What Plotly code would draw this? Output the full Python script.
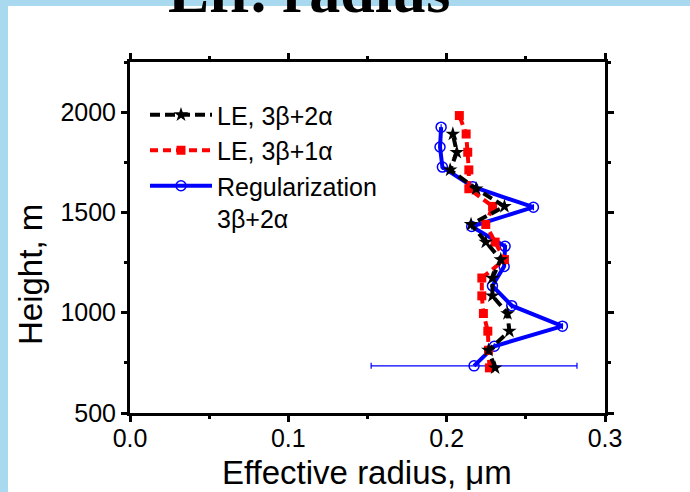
import plotly.graph_objects as go

# ---- data ----
# LE, 3β+2α  (black stars), bottom to top
black_h = [725, 813, 908, 996, 1084, 1173, 1265, 1352, 1440, 1530, 1618, 1712, 1800, 1891]
black_r = [0.2306, 0.2264, 0.2396, 0.2384, 0.2289, 0.2289, 0.2342, 0.2247, 0.2154, 0.2365,
           0.2186, 0.2022, 0.2064, 0.2039]

# LE, 3β+1α  (red squares)
red_h = [725, 813, 908, 996, 1084, 1173, 1265, 1352, 1440, 1530, 1618, 1712, 1800, 1891, 1983]
red_r = [0.2270, 0.2264, 0.2260, 0.2232, 0.2222, 0.2222, 0.2365, 0.2306, 0.2247, 0.2290,
         0.2140, 0.2140, 0.2133, 0.2123, 0.2080]

# Regularization 3β+2α (blue open circles)
blue_h = [735, 833, 933, 1035, 1134, 1231, 1331, 1430, 1526, 1628, 1726, 1826, 1925]
blue_r = [0.2173, 0.2301, 0.2731, 0.2411, 0.2289, 0.2363, 0.2369, 0.2158, 0.2548, 0.2165,
          0.1973, 0.1958, 0.1965]
blue_err = [0.065] + [None] * (len(blue_h) - 1)

x_ticks = [0.0, 0.1, 0.2, 0.3]
x_ticklabels = ["0.0", "0.1", "0.2", "0.3"]
y_ticks = [500, 1000, 1500, 2000]
y_ticklabels = ["500", "1000", "1500", "2000"]

W, H = 690, 492
L, R, T, B = 130, 85, 62, 79
pw, ph = W - L - R, H - T - B


def px(xp):
    return (xp - L) / pw


def py(yp):
    return (H - B - yp) / ph


fig = go.Figure()

fig.add_trace(go.Scatter(
    x=blue_r, y=blue_h, mode="lines+markers",
    name="Regularization<br>3β+2α",
    line=dict(color="#0000FF", width=4),
    marker=dict(symbol="circle-open", size=10, color="#0000FF",
                line=dict(width=1.5, color="#0000FF")),
    error_x=dict(type="data", array=blue_err, symmetric=True,
                 color="#0000FF", thickness=1.2, width=3),
))
fig.add_trace(go.Scatter(
    x=red_r, y=red_h, mode="lines+markers",
    name="LE, 3β+1α",
    line=dict(color="#FF0000", width=4, dash="8px,5px"),
    marker=dict(symbol="square", size=9, color="#FF0000"),
))
fig.add_trace(go.Scatter(
    x=black_r, y=black_h, mode="lines+markers",
    name="LE, 3β+2α",
    line=dict(color="#000000", width=4, dash="10px,5px"),
    marker=dict(symbol="star", size=11, color="#000000"),
))

axis_common = dict(
    showline=True, linecolor="black", linewidth=3, mirror="allticks",
    ticks="outside", ticklen=6, tickwidth=2.5, tickcolor="black",
    showgrid=False, zeroline=False, automargin=False,
    tickfont=dict(family="Liberation Sans, Arial", size=25, color="black"),
)

fig.update_xaxes(
    range=[0, 0.3], tickvals=x_ticks, ticktext=x_ticklabels,
    ticklabelstandoff=-5,
    minor=dict(dtick=0.05, tick0=0, ticks="outside", ticklen=3, tickwidth=2.5, tickcolor="black"),
    **axis_common,
)
fig.update_yaxes(
    range=[500, 2250], tickvals=y_ticks, ticktext=y_ticklabels,
    minor=dict(dtick=250, tick0=500, ticks="outside", ticklen=3, tickwidth=2.5, tickcolor="black"),
    **axis_common,
)

fig.update_layout(
    width=W, height=H,
    margin=dict(l=L, r=R, t=T, b=B, pad=0, autoexpand=False),
    paper_bgcolor="#A9D9EF",
    plot_bgcolor="white",
    showlegend=True,
    legend=dict(
        x=px(145), y=py(92), xanchor="left", yanchor="top",
        traceorder="reversed", valign="top",
        bgcolor="rgba(0,0,0,0)", borderwidth=0,
        font=dict(family="Liberation Sans, Arial", size=25, color="black"),
        itemwidth=62, tracegroupgap=0,
    ),
    shapes=[dict(
        type="rect", xref="paper", yref="paper", layer="below",
        x0=px(8), x1=px(W + 20), y0=py(H + 20), y1=py(6),
        fillcolor="white", line=dict(width=0),
    )],
    annotations=[
        dict(
            text="<b>Eff. radius</b>", xref="paper", yref="paper",
            x=px(309), y=py(27), xanchor="center", yanchor="bottom",
            showarrow=False,
            font=dict(family="Liberation Serif, Times New Roman", size=62, color="black"),
        ),
        dict(
            text="Height, m", xref="paper", yref="paper", textangle=-90,
            x=px(30), y=py(275), xanchor="center", yanchor="middle",
            showarrow=False,
            font=dict(family="Liberation Sans, Arial", size=33, color="black"),
        ),
        dict(
            text="Effective radius, μm", xref="paper", yref="paper",
            x=px(367), y=py(472), xanchor="center", yanchor="middle",
            showarrow=False,
            font=dict(family="Liberation Sans, Arial", size=33, color="black"),
        ),
    ],
)

fig.write_html("out.html")
